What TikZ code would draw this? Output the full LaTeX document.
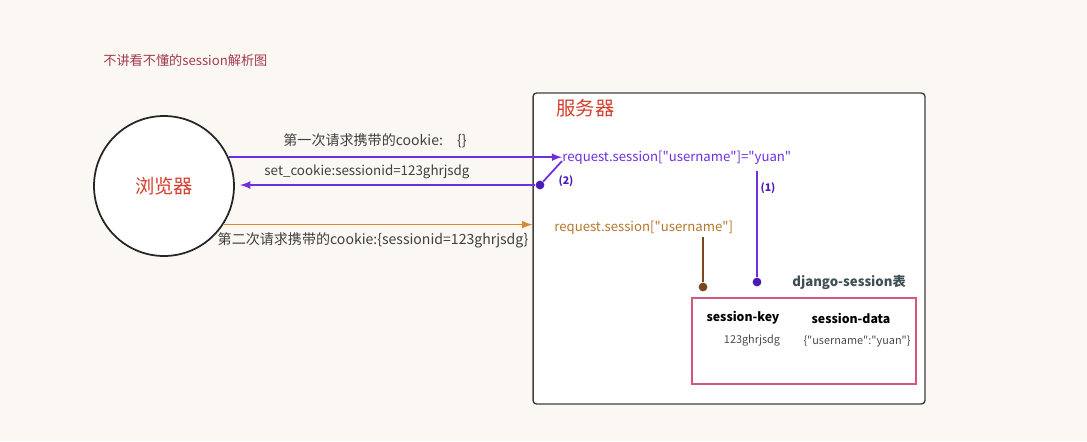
\documentclass[tikz,border=0pt]{standalone}
\usepackage{fontspec}
\setmainfont{Noto Sans CJK SC}[Ligatures=TeXOff]
\usepackage{tikz}
\usetikzlibrary{arrows}
\definecolor{bgpaper}{HTML}{FBF8F4}
\definecolor{titlered}{HTML}{A23A50}
\definecolor{namered}{HTML}{D5402E}
\definecolor{reqpurple}{HTML}{6F2FE0}
\definecolor{dotpurple}{HTML}{4A1CB4}
\definecolor{reqorange}{HTML}{DC8630}
\definecolor{getbrown}{HTML}{B5782E}
\definecolor{linebrown}{HTML}{7A4820}
\definecolor{tabgray}{HTML}{3E5056}
\definecolor{tabpink}{HTML}{D2587C}
\tikzstyle{caption} = [inner sep=0pt, text=black!75, font=\fontsize{8}{9}\selectfont]
\tikzstyle{bigname} = [inner sep=0pt, text=namered, font=\fontsize{11}{12}\selectfont]
\tikzstyle{codeline} = [inner sep=0pt, anchor=west, font=\fontsize{7.5}{9}\selectfont]
\tikzstyle{step label} = [inner sep=0pt, text=dotpurple, font=\bfseries\fontsize{6}{7}\selectfont]
\tikzstyle{dot} = [circle, inner sep=0pt, minimum size=5pt]
\tikzstyle{arrow} = [line width=1pt,->,>=latex]
\tikzstyle{line} = [line width=1pt,-]

\begin{document}
\begin{tikzpicture}[x=0.02cm, y=-0.02cm]
  \fill [bgpaper] (0,0) rectangle (1087,441);
  \node (title) [inner sep=0pt, anchor=west, text=titlered, font=\fontsize{7.5}{8}\selectfont] at (103,60) {不讲看不懂的session解析图};

  \node (browser) [circle, draw=black!85, line width=1pt, fill=white, minimum size=2.8cm, bigname] at (164,186) {浏览器};
  \node (server) [rectangle, rounded corners=2pt, draw=black!75, thick, fill=white, minimum width=7.84cm, minimum height=6.22cm] at (729,248.5) {};
  \node (srvname) [bigname, anchor=west] at (556,108) {服务器};

  \node (setreq) [codeline, text=reqpurple] at (562,157.5) {request.session["username"]="yuan"};
  \node (getreq) [codeline, text=getbrown] at (554,228) {request.session["username"]};
  \node (dot2) [dot, fill=dotpurple] at (540,185) {};
  \node (dot1) [dot, fill=dotpurple] at (757,282) {};
  \node (dot3) [dot, fill=linebrown] at (703,287) {};
  \coordinate (top1) at (757,171);
  \coordinate (top3) at (703,237);

  \node (tabname) [inner sep=0pt, text=tabgray, font=\bfseries\fontsize{7.5}{9}\selectfont] at (849,282) {django-session表};
  \node (table) [rectangle, draw=tabpink, thick, fill=white, minimum width=4.48cm, minimum height=1.72cm] at (804,341) {};
  \node (keyhead) [inner sep=0pt, font=\bfseries\fontsize{7}{8}\selectfont] at (743,318) {session-key};
  \node (datahead) [inner sep=0pt, font=\bfseries\fontsize{7}{8}\selectfont] at (851,318) {session-data};
  \node (keyval) [inner sep=0pt, text=black!70, font=\fontsize{6.2}{7}\selectfont] at (752,341) {123ghrjsdg};
  \node (dataval) [inner sep=0pt, text=black!70, font=\fontsize{6.2}{7}\selectfont] at (857,341) {\{"username":"yuan"\}};

  \node (cap1) [caption] at (375,141) {第一次请求携带的cookie:\quad\{\}};
  \node (cap2) [caption, font=\fontsize{7.6}{9}\selectfont] at (367,172) {set\_cookie:sessionid=123ghrjsdg};
  \node (cap3) [caption] at (373,240) {第二次请求携带的cookie:\{sessionid=123ghrjsdg\}};

  \draw [arrow, reqpurple] (browser.24) -- (browser.24 -| setreq.west);
  \draw [arrow, reqpurple, shorten >=3pt] (dot2) -- (dot2 -| browser.east);
  \draw [line, reqpurple] (dot2) -- ([yshift=-2pt]setreq.west);
  \node (lab2) [step label] at (566,181) {(2)};
  \draw [line, reqpurple] (top1) -- (dot1);
  \node (lab1) [step label] at (768,188) {(1)};
  \draw [arrow, reqorange] (browser.-33) -- (browser.-33 -| server.west);
  \draw [line, linebrown] (top3) -- (dot3);
\end{tikzpicture}
\end{document}
